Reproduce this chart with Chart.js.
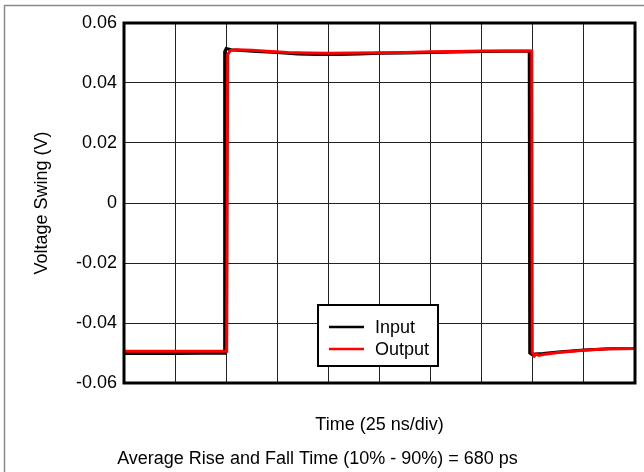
<!DOCTYPE html>
<html>
<head>
<meta charset="utf-8">
<script src="https://cdn.jsdelivr.net/npm/chart.js@4.4.0/dist/chart.umd.min.js"></script>
<style>
  html, body { margin: 0; padding: 0; background: #fff; }
  #wrap { width: 644px; height: 472px; }
</style>
</head>
<body>
<div id="wrap"><canvas id="chart" width="644" height="472"></canvas></div>
<script>
// Dados (tempo em divisões de 25 ns, tensão em V)
const inputTime = [0, 0.5, 1.0, 1.5, 1.96, 1.97, 2.0, 2.1, 2.3, 2.6, 3.0, 3.4, 3.8, 4.2, 4.6, 5.0, 5.5, 6.0, 6.5, 7.0, 7.5, 7.93, 7.94, 7.98, 8.05, 8.2, 8.5, 9.0, 9.5, 10];
const inputVolt = [-0.0502, -0.0502, -0.0502, -0.0501, -0.0501, 0.0505, 0.0515, 0.0511, 0.0508, 0.0505, 0.0502, 0.0497, 0.0495, 0.0495, 0.0497, 0.0499, 0.0500, 0.0502, 0.0503, 0.0505, 0.0506, 0.0506, -0.0500, -0.0505, -0.0503, -0.0502, -0.0497, -0.0490, -0.0486, -0.0485];
const outputTime = [0, 0.5, 1.0, 1.5, 2.01, 2.03, 2.08, 2.2, 2.5, 2.8, 3.2, 3.6, 4.0, 4.5, 5.0, 5.5, 6.0, 6.5, 7.0, 7.5, 7.98, 7.99, 8.03, 8.07, 8.12, 8.2, 8.5, 9.0, 9.5, 10];
const outputVolt = [-0.0494, -0.0494, -0.0494, -0.0494, -0.0494, 0.0495, 0.0508, 0.0511, 0.0509, 0.0506, 0.0502, 0.0500, 0.0499, 0.0500, 0.0501, 0.0502, 0.0504, 0.0505, 0.0507, 0.0507, 0.0507, -0.0498, -0.0510, -0.0503, -0.0508, -0.0505, -0.0498, -0.0491, -0.0486, -0.0485];
const yTicks = [-0.06, -0.04, -0.02, 0, 0.02, 0.04, 0.06];
const seriesNames = ['Input', 'Output'];
const seriesColors = ['#000000', '#ff0000'];

const FONT = '"Liberation Sans", Arial, sans-serif';

function toPoints(xs, ys) {
  return xs.map((x, i) => ({ x: x, y: ys[i] }));
}

// Moldura, borda da área do gráfico e legenda
const framePlugin = {
  id: 'frame',
  beforeDraw(chart) {
    const c = chart.ctx;
    c.save();
    c.fillStyle = '#fff';
    c.fillRect(0, 0, chart.width, chart.height);
    c.strokeStyle = '#8a8a8a';
    c.lineWidth = 1.5;
    c.beginPath();
    c.moveTo(4.5, chart.height);
    c.lineTo(4.5, 5.5);
    c.lineTo(chart.width, 5.5);
    c.stroke();
    c.restore();
  },
  afterDraw(chart) {
    const c = chart.ctx;
    const a = chart.chartArea;
    c.save();
    c.strokeStyle = '#000';
    c.lineWidth = 3;
    c.strokeRect(a.left, a.top, a.right - a.left, a.bottom - a.top);

    // legenda
    const bx = a.left + 194, by = a.top + 282, bw = 120, bh = 61;
    c.fillStyle = '#fff';
    c.fillRect(bx, by, bw, bh);
    c.lineWidth = 2;
    c.strokeRect(bx, by, bw, bh);
    c.font = '18px ' + FONT;
    c.textBaseline = 'middle';
    c.textAlign = 'left';
    seriesNames.forEach((name, i) => {
      const ly = by + 22 + i * 22;
      c.strokeStyle = seriesColors[i];
      c.lineWidth = 2.5;
      c.beginPath();
      c.moveTo(bx + 11, ly);
      c.lineTo(bx + 46, ly);
      c.stroke();
      c.fillStyle = '#000';
      c.fillText(name, bx + 57, ly + 1);
    });
    c.restore();
  }
};

new Chart(document.getElementById('chart'), {
  type: 'line',
  data: {
    datasets: [
      {
        label: seriesNames[0],
        data: toPoints(inputTime, inputVolt),
        borderColor: seriesColors[0],
        borderWidth: 3,
        pointRadius: 0,
        tension: 0,
        order: 1
      },
      {
        label: seriesNames[1],
        data: toPoints(outputTime, outputVolt),
        borderColor: seriesColors[1],
        borderWidth: 3,
        pointRadius: 0,
        tension: 0,
        order: 0
      }
    ]
  },
  options: {
    responsive: false,
    animation: false,
    layout: { padding: { left: 0, right: 9, top: 23, bottom: 0 } },
    plugins: {
      legend: { display: false },
      tooltip: { enabled: false },
      title: {
        display: true,
        position: 'bottom',
        text: 'Average Rise and Fall Time (10% - 90%) = 680 ps',
        color: '#000',
        font: { family: FONT, size: 18, weight: 'normal' },
        padding: { top: 4, bottom: 2 }
      }
    },
    scales: {
      x: {
        type: 'linear',
        min: 0,
        max: 10,
        ticks: { display: false, stepSize: 1 },
        grid: { color: '#222', lineWidth: 1, drawTicks: false },
        border: { display: false },
        title: {
          display: true,
          text: 'Time (25 ns/div)',
          color: '#000',
          font: { family: FONT, size: 18 },
          padding: { top: 0, bottom: 8.6 }
        },
        afterFit(scale) { scale.height = 61.4; }
      },
      y: {
        type: 'linear',
        min: -0.06,
        max: 0.06,
        afterBuildTicks(scale) { scale.ticks = yTicks.map(v => ({ value: v })); },
        ticks: {
          color: '#000',
          padding: 7,
          font: { family: FONT, size: 18 },
          callback: v => String(Math.round(v * 100) / 100)
        },
        grid: { color: '#222', lineWidth: 1, drawTicks: false },
        border: { display: false },
        title: {
          display: true,
          text: 'Voltage Swing (V)',
          color: '#000',
          font: { family: FONT, size: 18 },
          padding: { top: 31, bottom: 0 }
        },
        afterFit(scale) { scale.width = 124; }
      }
    }
  },
  plugins: [framePlugin]
});
</script>
</body>
</html>
